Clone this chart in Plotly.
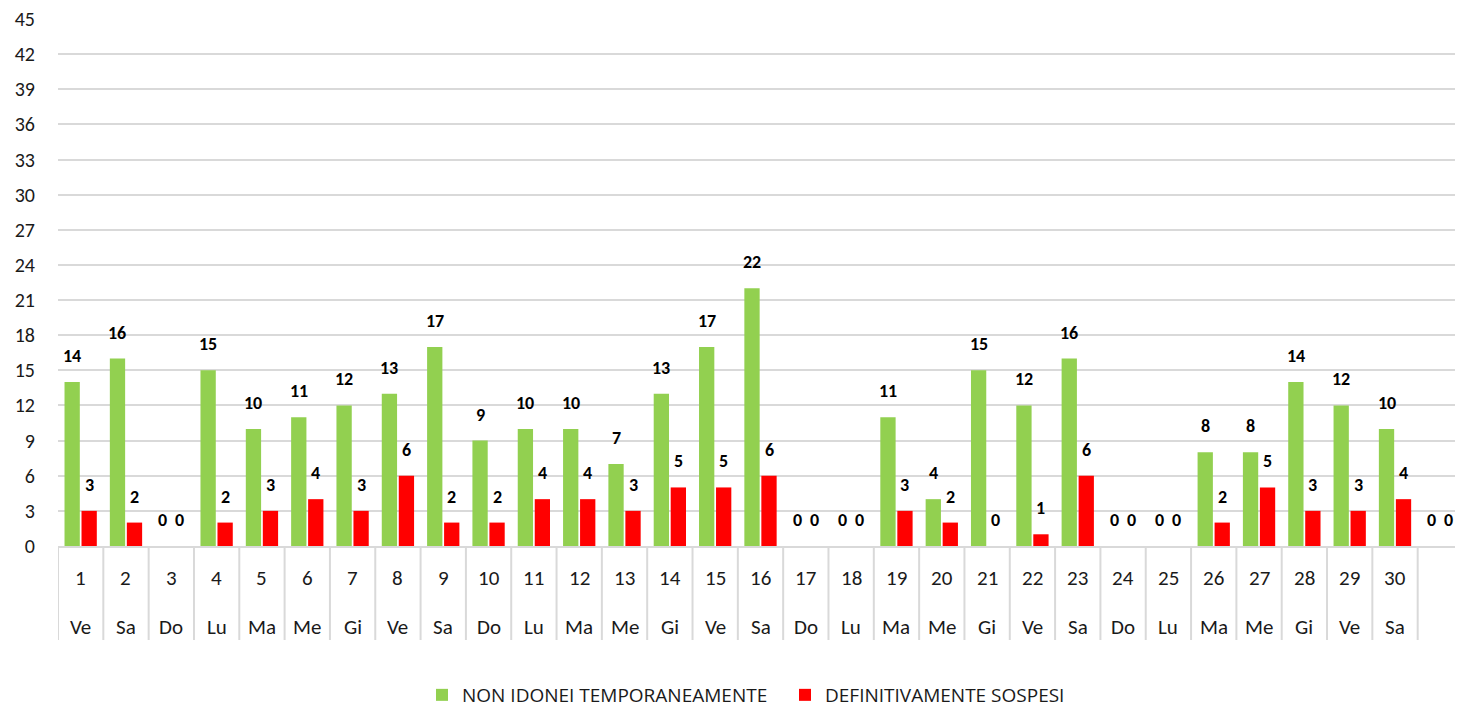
import plotly.graph_objects as go

days = list(range(1, 32))
day_numbers = [str(d) for d in range(1, 31)] + [""]
weekdays = ["Ve", "Sa", "Do", "Lu", "Ma", "Me", "Gi", "Ve", "Sa", "Do",
            "Lu", "Ma", "Me", "Gi", "Ve", "Sa", "Do", "Lu", "Ma", "Me",
            "Gi", "Ve", "Sa", "Do", "Lu", "Ma", "Me", "Gi", "Ve", "Sa", ""]
non_idonei = [14, 16, 0, 15, 10, 11, 12, 13, 17, 9,
              10, 10, 7, 13, 17, 22, 0, 0, 11, 4,
              15, 12, 16, 0, 0, 8, 8, 14, 12, 10, 0]
sospesi = [3, 2, 0, 2, 3, 4, 3, 6, 2, 2,
           4, 4, 3, 5, 5, 6, 0, 0, 3, 2,
           0, 1, 6, 0, 0, 2, 5, 3, 3, 4, 0]
y_ticks = list(range(0, 46, 3))

GREEN = "#92D050"
RED = "#FF0000"
GRID = "#D9D9D9"
TXT = "#1a1a1a"
FONT = "Carlito, Lato, 'Liberation Sans', sans-serif"
LEGFONT = "'Open Sans', Lato, sans-serif"

BARGAP = 0.25
GROUPGAP = 0.1
slot = (1 - BARGAP) / 2
offset = slot / 2

fig = go.Figure()
fig.add_trace(go.Bar(x=days, y=non_idonei, name="NON IDONEI TEMPORANEAMENTE",
                     marker=dict(color=GREEN, line=dict(width=0))))
fig.add_trace(go.Bar(x=days, y=sospesi, name="DEFINITIVAMENTE SOSPESI",
                     marker=dict(color=RED, line=dict(width=0))))

annotations = []
for d, g, r in zip(days, non_idonei, sospesi):
    for xv, v in ((d - offset, g), (d + offset, r)):
        annotations.append(dict(x=xv, y=v, xref="x", yref="y", text=f"<b>{v}</b>",
                                showarrow=False, yanchor="bottom", yshift=13,
                                font=dict(size=18, color="#000000", family=FONT)))

FIG_H = 706
PLOT_H = 527
row1_y = -(578 - 546) / PLOT_H
row2_y = -(627 - 546) / PLOT_H
for d, n, w in zip(days, day_numbers, weekdays):
    annotations.append(dict(x=d, y=row1_y, xref="x", yref="paper", text=n, showarrow=False,
                            yanchor="middle", font=dict(size=21, color=TXT, family=FONT)))
    annotations.append(dict(x=d, y=row2_y, xref="x", yref="paper", text=w, showarrow=False,
                            yanchor="middle", font=dict(size=21, color=TXT, family=FONT)))

shapes = []
sep_bottom = -(640 - 546) / PLOT_H
for k in range(0, 31):
    shapes.append(dict(type="line", xref="x", yref="paper", x0=k + 0.5, x1=k + 0.5,
                       y0=0, y1=sep_bottom, line=dict(color=GRID, width=2)))

# page body has an 8px default margin, so the figure is sized to fill the rest
fig.update_layout(
    width=1455, height=FIG_H,
    margin=dict(l=50, r=0, t=11, b=168, autoexpand=False),
    paper_bgcolor="white", plot_bgcolor="white",
    barmode="group", bargap=BARGAP, bargroupgap=GROUPGAP,
    font=dict(family=FONT, color=TXT),
    xaxis=dict(range=[0.5, 31.5], showticklabels=False, showgrid=False, zeroline=False,
               showline=True, linecolor=GRID, linewidth=2, ticks="", automargin=False),
    yaxis=dict(range=[0, 45], tickvals=y_ticks, showgrid=True, gridcolor=GRID, gridwidth=1.5,
               zeroline=False, showline=False, ticks="outside", ticklen=18,
               tickcolor="rgba(0,0,0,0)", tickfont=dict(size=20, color=TXT, family=FONT),
               ticklabeloverflow="allow", automargin=False),
    legend=dict(orientation="h", x=(422 - 58) / 1405, xanchor="left",
                yref="container", y=0.0, yanchor="bottom", entrywidth=318,
                font=dict(size=19, color=TXT, family=LEGFONT), itemwidth=30,
                traceorder="normal"),
    annotations=annotations,
    shapes=shapes,
)

fig.write_html("out.html")
